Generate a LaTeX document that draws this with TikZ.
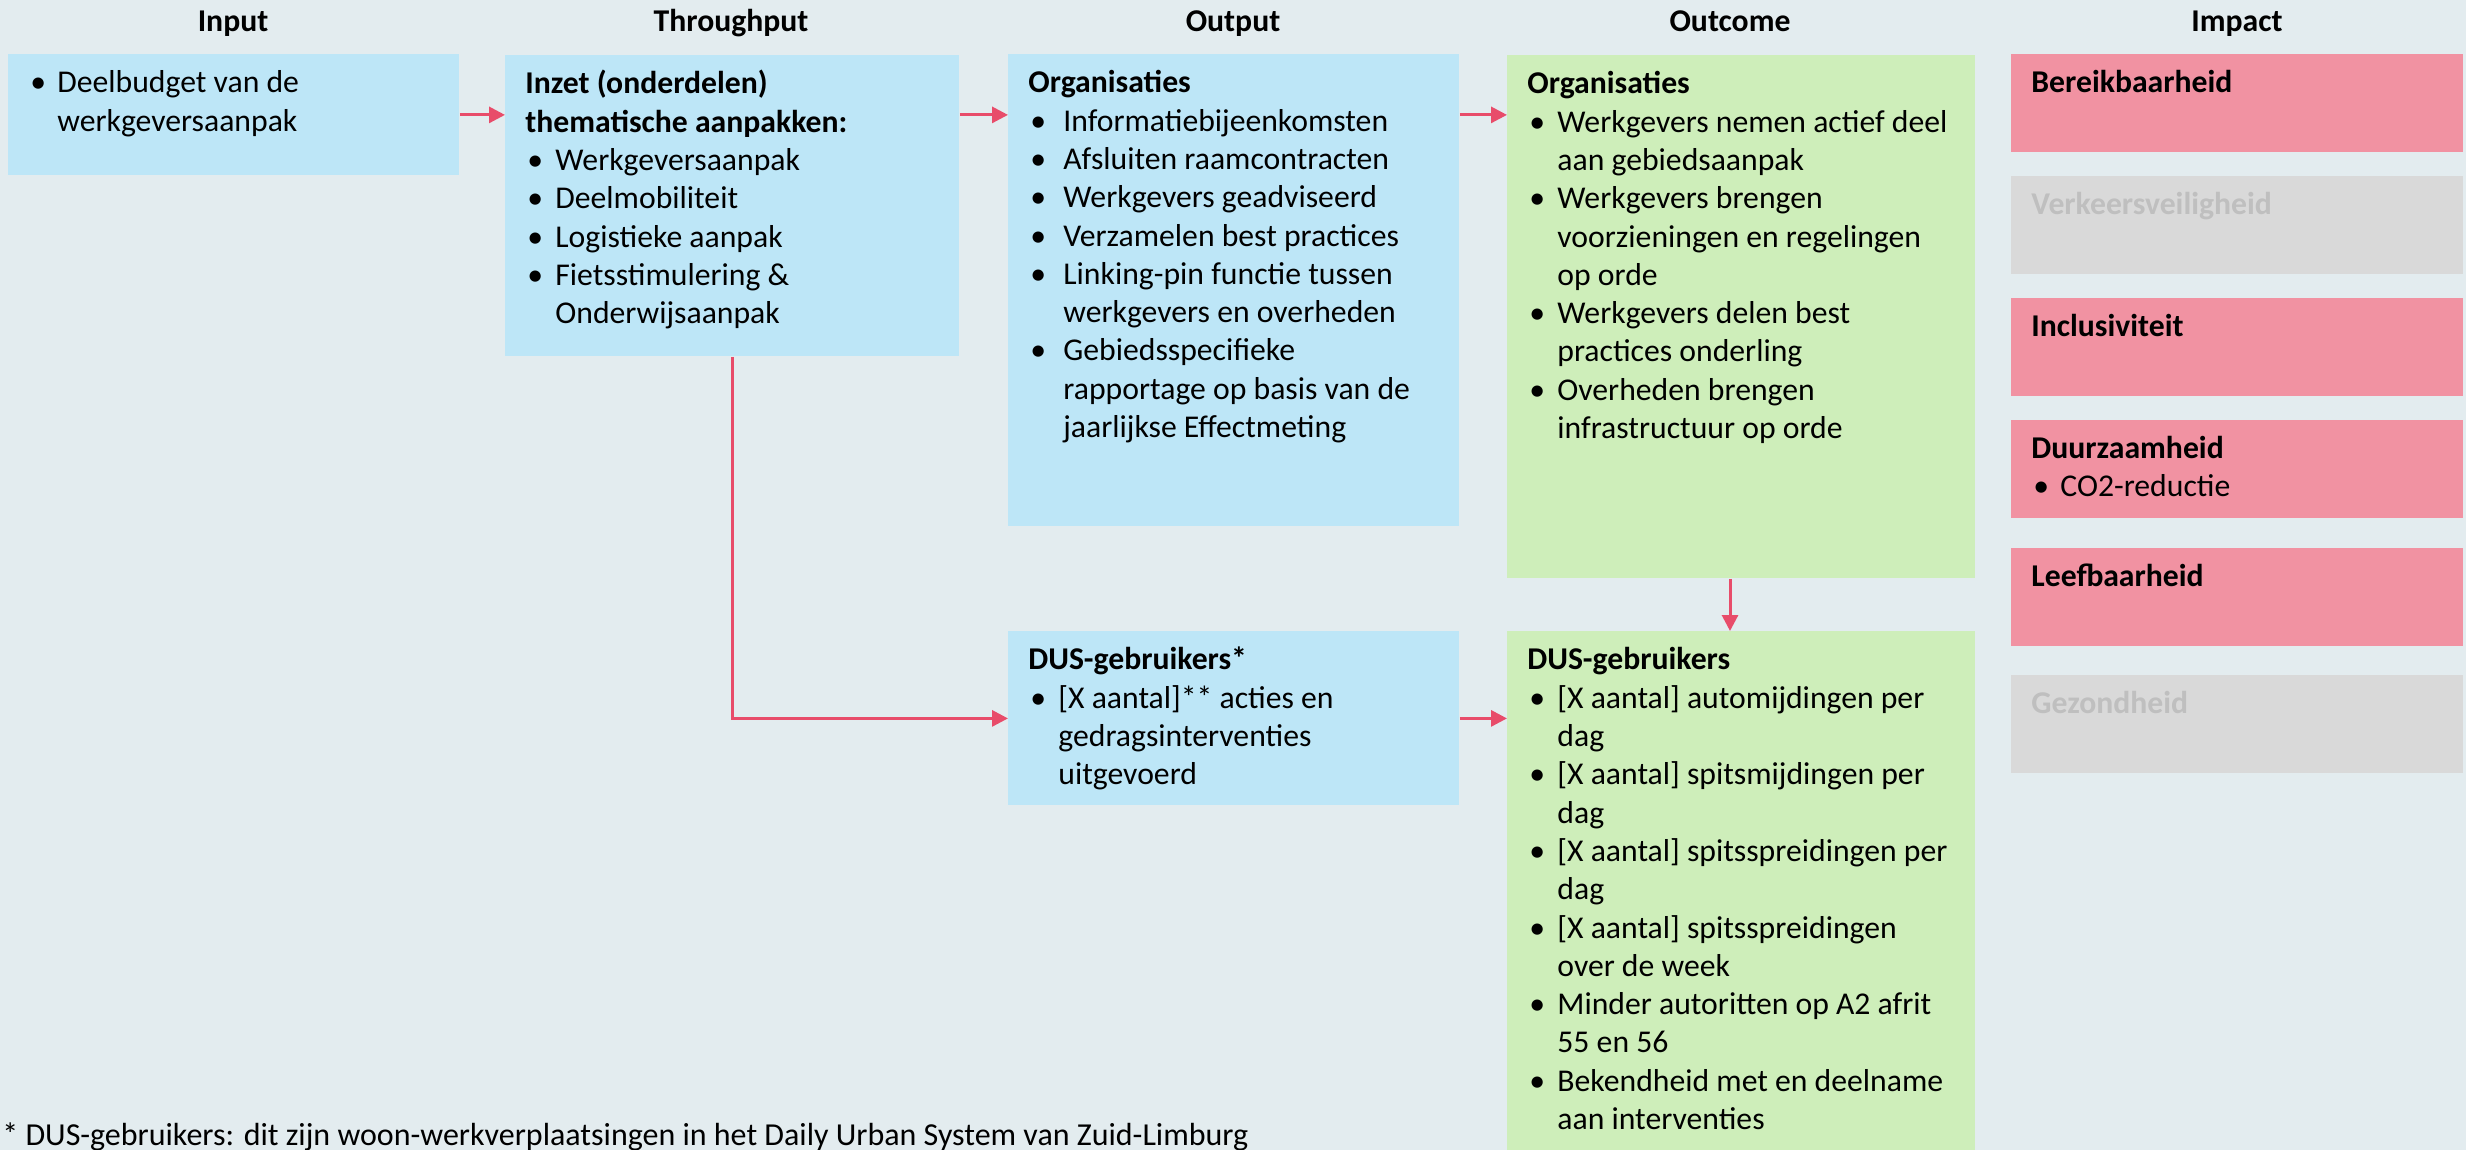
\documentclass[tikz,border=0pt]{standalone}
\usepackage{fontspec}
\setmainfont{Carlito}
\usetikzlibrary{positioning, arrows.meta, calc}

\definecolor{achtergrond}{HTML}{E3ECEF}
\definecolor{blauw}{HTML}{BDE6F7}
\definecolor{groen}{HTML}{CEEEBA}
\definecolor{roze}{HTML}{F192A2}
\definecolor{grijs}{HTML}{D9D9D9}
\definecolor{grijstekst}{HTML}{BFBFBF}
\definecolor{pijlrood}{HTML}{E84C6A}

\newlength{\bulbreedte}
\setlength{\bulbreedte}{15pt}
% gewone woordafstand van het font, ook in align=left
\newcommand{\bul}{\spaceskip=0pt\relax\makebox[\bulbreedte][l]{\hspace{1pt}\textbullet}}
\newcommand{\verder}{\spaceskip=0pt\relax\hspace*{\bulbreedte}}
\newcommand{\titel}[1]{\spaceskip=0pt\relax\textbf{#1}}

\begin{document}
\begin{tikzpicture}[
            x=0.5pt, y=-0.5pt,
            kop/.style={anchor=base, inner sep=0pt, font=\bfseries\fontsize{15.85}{19}\selectfont},
            vak/.style={anchor=north west, inner xsep=10pt, inner ysep=0pt, align=left,
                text height=19.25pt, font=\fontsize{15.85}{19.15}\selectfont},
            impact/.style={vak, fill=roze, text width=206pt, text depth=29.75pt},
            grijsvak/.style={impact, fill=grijs, text=grijstekst},
            pijl/.style={draw=pijlrood, line width=1.5pt, -{Triangle[length=8pt, width=8pt]}}
        ]

        \useasboundingbox (0,0) rectangle (2466,1150);
        \fill[achtergrond] (0,0) rectangle (2466,1150);

        % Kopjes
        \node[kop] (hin) at (233,32) {Input};
        \node[kop] (hthr) at (731,32) {Throughput};
        \node[kop] (hout) at (1233,32) {Output};
        \node[kop] (hoc) at (1730,32) {Outcome};
        \node[kop] (himp) at (2237,32) {Impact};

        % Vakken
        \node[vak, fill=blauw, text width=205.5pt, text depth=41.25pt] (inp) at (8,54) {%
            \setlength{\bulbreedte}{14.5pt}%
            \bul Deelbudget van de\\
            \verder werkgeversaanpak};
        \node[vak, fill=blauw, text width=207pt, text depth=131.25pt] (thr) at (505,55) {%
            \titel{Inzet (onderdelen)}\\
            \titel{thematische aanpakken:}\\
            \bul Werkgeversaanpak\\
            \bul Deelmobiliteit\\
            \bul Logistieke aanpak\\
            \bul Fietsstimulering \&\\
            \verder Onderwijsaanpak};
        \node[vak, fill=blauw, text width=205.5pt, text depth=216.75pt] (out1) at (1008,54) {%
            \setlength{\bulbreedte}{17.5pt}%
            \titel{Organisaties}\\
            \bul Informatiebijeenkomsten\\
            \bul Afsluiten raamcontracten\\
            \bul Werkgevers geadviseerd\\
            \bul Verzamelen best practices\\
            \bul Linking-pin functie tussen\\
            \verder werkgevers en overheden\\
            \bul Gebiedsspecifieke\\
            \verder rapportage op basis van de\\
            \verder jaarlijkse Effectmeting};
        \node[vak, fill=blauw, text width=205.5pt, text depth=67.75pt] (out2) at (1008,631) {%
            \titel{DUS-gebruikers*}\\
            \bul [X aantal]** acties en\\
            \verder gedragsinterventies\\
            \verder uitgevoerd};
        \node[vak, fill=groen, text width=214pt, text depth=242.25pt] (oc1) at (1507,55) {%
            \titel{Organisaties}\\
            \bul Werkgevers nemen actief deel\\
            \verder aan gebiedsaanpak\\
            \bul Werkgevers brengen\\
            \verder voorzieningen en regelingen\\
            \verder op orde\\
            \bul Werkgevers delen best\\
            \verder practices onderling\\
            \bul Overheden brengen\\
            \verder infrastructuur op orde};
        \node[vak, fill=groen, text width=214pt, text depth=240.25pt] (oc2) at (1507,631) {%
            \titel{DUS-gebruikers}\\
            \bul [X aantal] automijdingen per\\
            \verder dag\\
            \bul [X aantal] spitsmijdingen per\\
            \verder dag\\
            \bul [X aantal] spitsspreidingen per\\
            \verder dag\\
            \bul [X aantal] spitsspreidingen\\
            \verder over de week\\
            \bul Minder autoritten op A2 afrit\\
            \verder 55 en 56\\
            \bul Bekendheid met en deelname\\
            \verder aan interventies};

        % Impact
        \node[impact] (imp1) at (2011,54) {\titel{Bereikbaarheid}};
        \node[grijsvak, below=11.5pt of imp1] (imp2) {\titel{Verkeersveiligheid}};
        \node[impact, below=11.5pt of imp2] (imp3) {\titel{Inclusiviteit}};
        \node[impact, below=11.5pt of imp3] (imp4) {%
            \setlength{\bulbreedte}{14.5pt}%
            \titel{Duurzaamheid}\\
            \bul CO2-reductie};
        \node[impact, below=14.5pt of imp4] (imp5) {\titel{Leefbaarheid}};
        \node[grijsvak, below=14.5pt of imp5] (imp6) {\titel{Gezondheid}};

        % Pijlen
        \draw[pijl] (inp.east) -- (inp.east -| thr.west);
        \draw[pijl] (thr.east |- inp.east) -- (out1.west |- inp.east);
        \draw[pijl] (out1.east |- inp.east) -- (oc1.west |- inp.east);
        \draw[pijl] (thr.south) |- (out2.west);
        \draw[pijl] (out2.east) -- (out2.east -| oc2.west);
        \draw[pijl] (hoc |- oc1.south) -- (hoc |- oc2.north);

        % Voetnoot
        \node[anchor=base west, inner sep=0pt, font=\fontsize{16}{19}\selectfont] (voetnoot) at (2,1145)
            {* DUS-gebruikers: dit zijn woon-werkverplaatsingen in het Daily Urban System van Zuid-Limburg};

    \end{tikzpicture}
\end{document}
